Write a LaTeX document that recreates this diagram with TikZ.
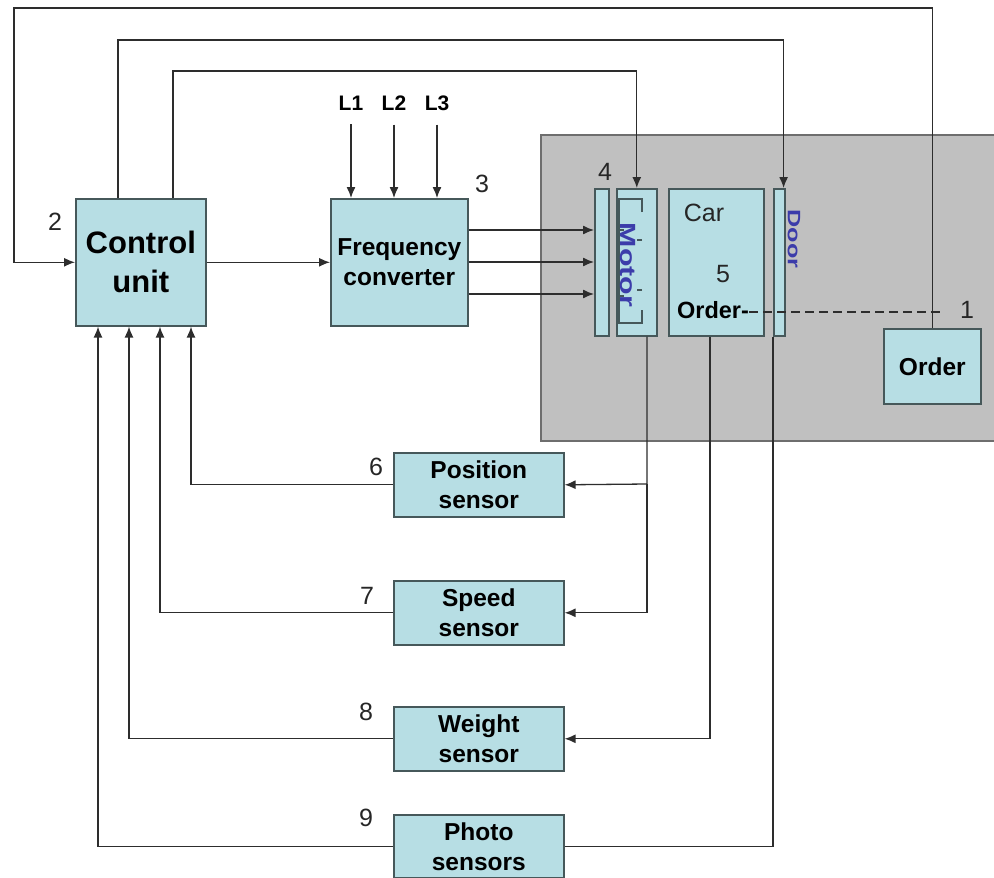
\documentclass[tikz,border=0pt]{standalone}
\usepackage{fontspec}
\usepackage{graphicx}
\setmainfont{Liberation Sans}
\usetikzlibrary{arrows.meta}
\definecolor{boxfill}{RGB}{183,222,228}
\definecolor{boxline}{RGB}{70,88,90}
\definecolor{grayreg}{RGB}{192,192,192}
\definecolor{grayedge}{RGB}{110,110,110}
\definecolor{wirec}{RGB}{45,45,45}
\definecolor{lbl}{RGB}{60,60,170}
\begin{document}
\begin{tikzpicture}[x=1pt,y=-1pt,
  box/.style={draw=boxline, fill=boxfill, line width=1.6pt, anchor=north west, inner sep=0pt, align=center, font=\bfseries\fontsize{24.5}{30}\selectfont},
  wire/.style={draw=wirec, line width=1.3pt},
  arr/.style={wire, -{Latex[length=11pt,width=9pt]}},
  num/.style={font=\fontsize{25}{30}\selectfont, inner sep=0pt, text=black!85}]
\useasboundingbox (0,0) rectangle (994,878);
\fill[white] (0,0) rectangle (994,878);
% gray region (car area)
\fill[grayreg] (541,135) rectangle (996,441);
\draw[grayedge, line width=1.5pt] (997,135) -- (541,135) -- (541,441) -- (997,441);

% boxes
\node[box, minimum width=130pt, minimum height=127pt, font=\bfseries\fontsize{31}{39}\selectfont] (cu) at (75,198) {Control\\unit};
\node[box, minimum width=137pt, minimum height=127pt] (fc) at (330,198) {Frequency\\converter};
\node[box, minimum width=14pt, minimum height=147pt] (mb) at (594,188) {};
\node[box, minimum width=40pt, minimum height=147pt] (mo) at (616,188) {};
\node[box, minimum width=95pt, minimum height=147pt] (car) at (668,188) {};
\node[box, minimum width=11pt, minimum height=147pt] (dr) at (773,188) {};
\node[box, minimum width=97pt, minimum height=75pt] (od) at (883,328) {Order};
\node[box, minimum width=170pt, minimum height=64pt] (ps) at (393,452) {Position\\sensor};
\node[box, minimum width=170pt, minimum height=64pt] (ss) at (393,580) {Speed\\sensor};
\node[box, minimum width=170pt, minimum height=64pt] (ws) at (393,706) {Weight\\sensor};
\node[box, minimum width=170pt, minimum height=63pt] (phs) at (393,814) {Photo\\sensors};

% motor comb
\draw[boxline, line width=1.3pt] (642,212) -- (642,199) -- (619,199) -- (619,323) -- (642,323) -- (642,310);
\draw[boxline, line width=1.3pt] (619,230) -- (624,230) (619,296) -- (624,296) (642,240) -- (637,240) (642,290) -- (637,290);
\node[rotate=-90, text=lbl, inner sep=0pt, font=\bfseries\fontsize{22}{22}\selectfont] (motortxt) at (628,265) {\scalebox{1.38}[1]{Motor}};
\node[rotate=-90, text=lbl, inner sep=0pt, font=\bfseries\fontsize{18}{18}\selectfont] (doortxt) at (794,239) {\scalebox{1.4}[1]{Door}};

% texts in car
\node[inner sep=0pt, font=\fontsize{25}{30}\selectfont, text=black!85] (cartxt) at (704,213) {Car};
\node[num] (n5) at (723,274) {5};
\node[inner sep=0pt, font=\bfseries\fontsize{23.5}{28}\selectfont] (ord5) at (713,310) {Order-};

% numbers
\node[num] (n1) at (967,310) {1};
\node[num] (n2) at (55,222) {2};
\node[num] (n3) at (482,184) {3};
\node[num] (n4) at (605,172) {4};
\node[num] (n6) at (376,467) {6};
\node[num] (n7) at (367,596) {7};
\node[num] (n8) at (366,712) {8};
\node[num] (n9) at (366,818) {9};

% supply lines
\node[inner sep=0pt, font=\bfseries\fontsize{21}{24}\selectfont] (L1) at (351,103) {L1};
\node[inner sep=0pt, font=\bfseries\fontsize{21}{24}\selectfont] (L2) at (394,103) {L2};
\node[inner sep=0pt, font=\bfseries\fontsize{21}{24}\selectfont] (L3) at (437,103) {L3};
\draw[arr] ([yshift=-14pt]L1.south) -- (L1 |- fc.north);
\draw[arr] ([yshift=-14pt]L2.south) -- (L2 |- fc.north);
\draw[arr] ([yshift=-14pt]L3.south) -- (L3 |- fc.north);

% coordinates for routing
\coordinate (c1) at (14,8);
\coordinate (t2) at (118,40);
\coordinate (t3) at (173,71);
\coordinate (ya) at (0,230);
\coordinate (yb) at (0,262);
\coordinate (yc) at (0,294);
\coordinate (mx) at (647,484);
\coordinate (cx) at (710,0);
\coordinate (b1) at (191,0);
\coordinate (b2) at (160,0);
\coordinate (b3) at (129,0);
\coordinate (b4) at (98,0);
\coordinate (d1) at (945,312);

% top feedback lines
\draw[arr] (od.north) |- (c1) |- (cu.west);
\draw[arr] (t2 |- cu.north) -- (t2) -| ([xshift=-2pt]dr.north east);
\draw[arr] (t3 |- cu.north) -- (t3) -| (mo.north);

% main power path
\draw[arr] (cu.east) -- (fc.west);
\draw[arr] (fc.east |- ya) -- (mb.west |- ya);
\draw[arr] (fc.east |- yb) -- (mb.west |- yb);
\draw[arr] (fc.east |- yc) -- (mb.west |- yc);

% to sensors
\draw[arr] (mo.south -| mx) -- (mx) -- (ps.east);
\draw[arr] (mx) |- (ss.east);
\draw[arr] (cx |- car.south) |- (ws.east);
\draw[wire] (dr.south west) |- (phs.east);

% sensors to control unit
\draw[arr] (ps.west) -| (b1 |- cu.south);
\draw[arr] (ss.west) -| (b2 |- cu.south);
\draw[arr] (ws.west) -| (b3 |- cu.south);
\draw[arr] (phs.west) -| (b4 |- cu.south);

% order dashed link
\draw[wire, dash pattern=on 9pt off 5pt] (ord5.east |- d1) -- (d1);
\end{tikzpicture}
\end{document}
